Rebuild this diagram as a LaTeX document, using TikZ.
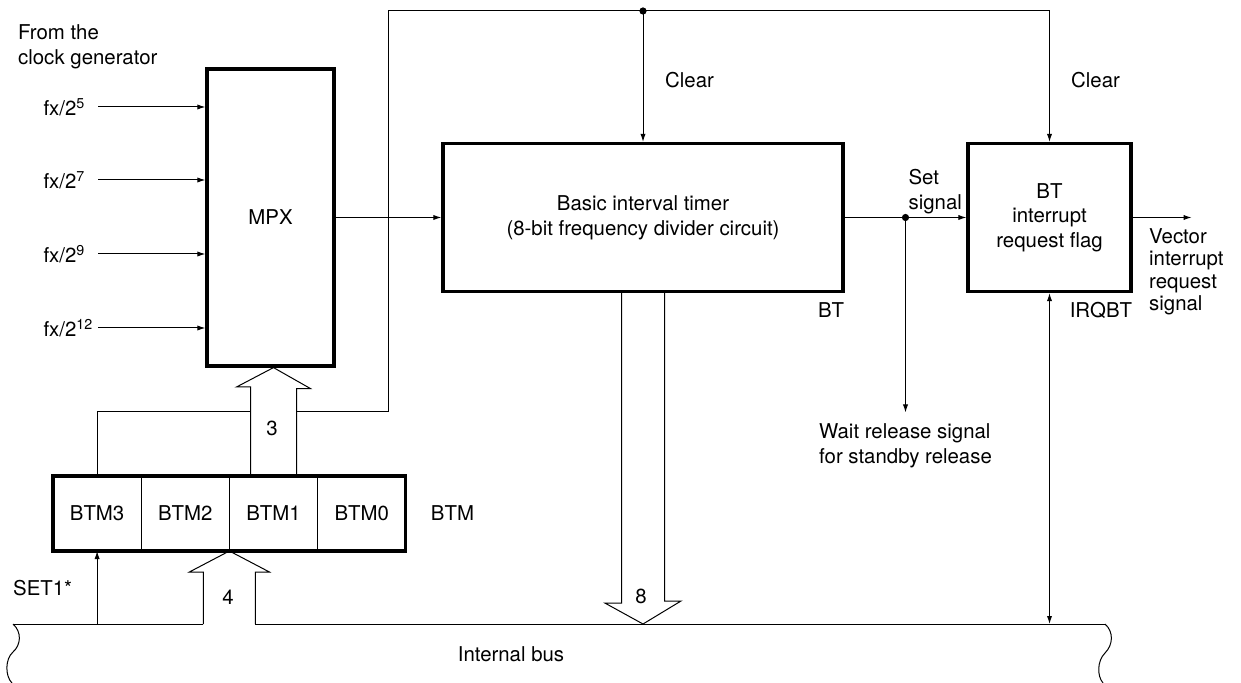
\documentclass[tikz,border=0pt]{standalone}
\usepackage{fontspec}
\setmainfont{TeX Gyre Heros}
\usetikzlibrary{arrows.meta,calc,positioning}

\begin{document}
\begin{tikzpicture}[x=0.5pt,y=-0.5pt,line width=0.5pt,
  font=\fontsize{10.2}{12.3}\selectfont,
  sig/.style={-{Latex[length=4pt,width=2.6pt]}},
  both/.style={{Latex[length=4pt,width=2.6pt]}-{Latex[length=4pt,width=2.6pt]}},
  block/.style={draw,line width=1.6pt,align=center},
  cell/.style={draw,minimum width=44.1pt,minimum height=37.5pt,outer sep=0pt,inner sep=0pt},
  clk/.style={text width=27pt,inner sep=0pt,align=left,anchor=west}]
  \useasboundingbox (0,0) rectangle (1241,683);

  \node[block,minimum width=63.5pt,minimum height=148.5pt] (mpx) at (270.5,217.5) {MPX};
  \node[block,minimum width=200pt,minimum height=74pt] (bt) at (643,217.5)
    {Basic interval timer\\(8-bit frequency divider circuit)};
  \node[block,minimum width=81.5pt,minimum height=74pt] (flag) at (1049.5,217.5)
    {BT\\interrupt\\request flag};

  \node[cell] (btm3) at (97.1,513.5) {BTM3};
  \node[cell,right=0pt of btm3] (btm2) {BTM2};
  \node[cell,right=0pt of btm2] (btm1) {BTM1};
  \node[cell,right=0pt of btm1] (btm0) {BTM0};
  \draw[line width=1.6pt] (btm3.north west) rectangle (btm0.south east);
  \node[right=9pt of btm0] (btmlbl) {BTM};

  \node[align=left,anchor=west] (clkgen) at (11,46.5) {From the\\clock generator};
  \foreach \e/\y in {5/107,7/180,9/254,12/328} {
    \node[clk] (f\e) at (43,\y) {fx/2\textsuperscript{\e}};
    \draw[sig] (f\e) -- (mpx.west |- f\e);
  }
  \draw[sig] (mpx) -- (bt);

  \coordinate (jog) at (388,412);
  \coordinate (top) at (388,11);
  \coordinate (busL) at (13,624);
  \coordinate (busR) at (1105,624);

  \draw ($(btm1.north)+(-23,0)$) -- ++(0,-89) -- ++(-14,0) -- (btm1.north |- mpx.south)
    -- ++(37,21) -- ++(-14,0) -- ($(btm1.north)+(23,0)$);
  \node (n3) at (272,428) {3};
  \draw (btm3.north) |- ($(btm1.north |- jog)+(-23,0)$);
  \draw[sig] ($(btm1.north |- jog)+(23,0)$) -| (top) -| (flag.north);
  \draw[sig] (bt.north |- top) -- (bt.north);
  \fill (bt.north |- top) circle[radius=1.8pt];
  \node[anchor=west] (clr1) at (658,80) {Clear};
  \node[anchor=west] (clr2) at (1064,80) {Clear};

  \draw[sig] (bt) -- (flag);
  \coordinate (set) at ($(bt.east)!0.5!(flag.west)$);
  \fill (set) circle[radius=1.8pt];
  \node[align=left,anchor=south east,inner sep=0pt] (setlbl) at ($(flag.west)+(-4,-3)$) {Set\\signal};
  \draw[sig] (set) -- ++(0,195) coordinate (wait);
  \node[align=left,below=2pt of wait] (waitlbl) {Wait release signal\\for standby release};
  \draw[sig] (flag.east) -- ++(59,0) coordinate (vec);
  \node[align=left,anchor=north west,font=\fontsize{10.2}{11.3}\selectfont] (veclbl) at (1142,221)
    {Vector\\interrupt\\request\\signal};
  \node[below=1pt of bt.south east,anchor=north east,inner xsep=0pt] (btlbl) {BT};
  \node[below=1pt of flag.south east,anchor=north east,inner xsep=0pt] (irqlbl) {IRQBT};

  \draw ($(bt.south)+(-21.5,0)$) -- ++(0,310) -- ++(-16.5,0) -- (bt.south |- busL)
    -- ++(38,-23) -- ++(-16.5,0) -- ($(bt.south)+(21.5,0)$);
  \node (n8) at (641,596) {8};

  \draw ($(btm2.south east |- busL)+(-26,0)$) -- ++(0,-52) -- ++(-14,0) -- (btm2.south east)
    -- ++(40,21) -- ++(-14,0) -- ++(0,52);
  \node (n4) at (228,597) {4};
  \draw[sig] (btm3.south |- busL) -- (btm3.south);
  \node[anchor=west] (setone) at (6,588) {SET1*};
  \draw[both] (flag.south |- busL) -- (flag.south);

  \draw (busL) -- ($(btm2.south east |- busL)+(-26,0)$);
  \draw ($(btm2.south east |- busL)+(26,0)$) -- (busR);
  \draw (busL) .. controls (22,632) and (21,645) .. (13,652) .. controls (5,659) and (5,676) .. (12,683);
  \draw (busR) .. controls (1114,632) and (1113,645) .. (1105,653) .. controls (1097,661) and (1097,676) .. (1103,683);
  \node (buslbl) at (511,654) {Internal bus};
\end{tikzpicture}
\end{document}
